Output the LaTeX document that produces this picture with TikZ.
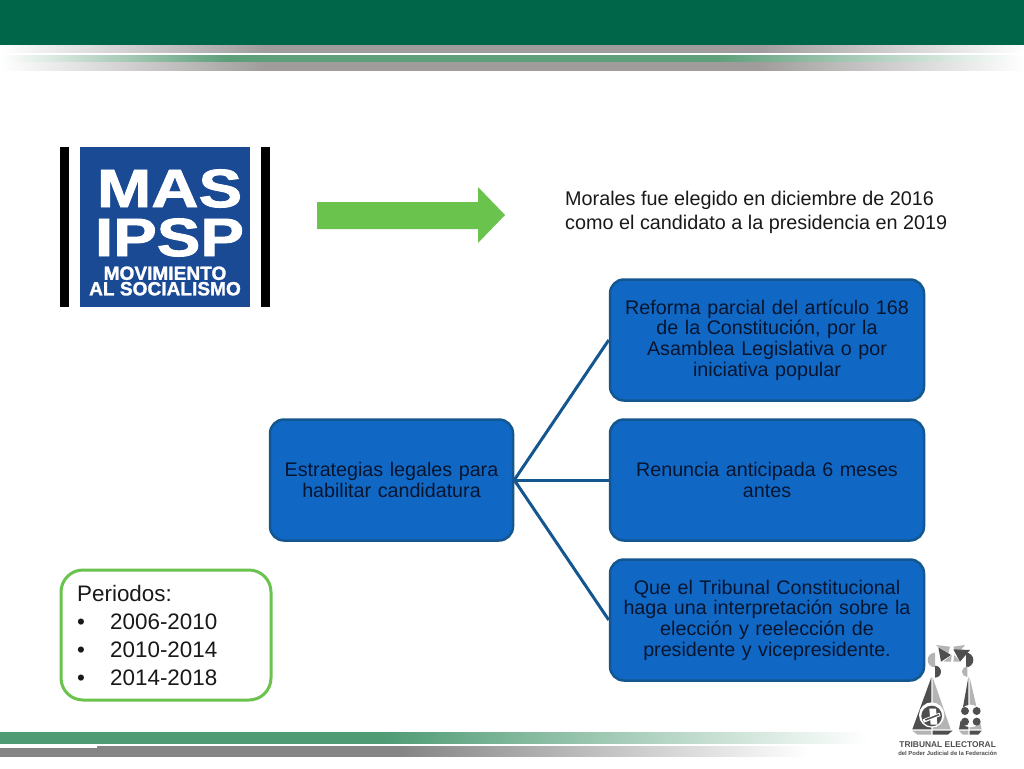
\documentclass[tikz,border=0pt]{standalone}
\usepackage{fontspec}
\setmainfont{Liberation Sans}
\newfontfamily\logofont[BoldFeatures={FakeBold=1.5}]{Liberation Sans}
\definecolor{topgreen}{HTML}{00664A}
\definecolor{boxblue}{HTML}{1068C4}
\definecolor{boxedge}{HTML}{14568F}
\definecolor{boxtext}{HTML}{07152F}
\definecolor{logoblue}{HTML}{1B4A94}
\definecolor{arrowgreen}{HTML}{69C34D}
\definecolor{bandgrey}{HTML}{A09C9C}
\definecolor{bandgreen}{HTML}{5E9F7B}
\definecolor{footgreen}{HTML}{4E9B74}
\definecolor{footgrey}{HTML}{858585}
\definecolor{sealdark}{HTML}{4F4F4F}
\definecolor{seallight}{HTML}{B4B4B4}
\pgfdeclarehorizontalshading{fadegrey}{100bp}{color(0bp)=(white); color(25bp)=(white); color(38bp)=(bandgrey); color(62bp)=(bandgrey); color(75bp)=(white); color(100bp)=(white)}
\pgfdeclarehorizontalshading{fadegreen}{100bp}{color(0bp)=(white); color(25bp)=(white); color(36bp)=(bandgreen); color(60bp)=(bandgreen); color(75bp)=(white); color(100bp)=(white)}
\pgfdeclarehorizontalshading{footfadegreen}{100bp}{color(0bp)=(footgreen); color(25bp)=(footgreen); color(47bp)=(footgreen); color(75bp)=(white); color(100bp)=(white)}
\pgfdeclarehorizontalshading{footfadegrey}{100bp}{color(0bp)=(footgrey); color(25bp)=(footgrey); color(49.7bp)=(footgrey); color(75bp)=(white); color(100bp)=(white)}
\tikzset{
	stepbox/.style={draw=boxedge, line width=2.5pt, fill=boxblue, rounded corners=14pt, text=boxtext, align=center, minimum height=121pt, font=\fontsize{19.7}{20.6}\selectfont},
	stepline/.style={draw=boxedge, line width=3pt},
	logotext/.style={text=white, align=center, inner sep=0pt},
	plaintext/.style={anchor=west, align=left, inner sep=0pt, text=black!90},
}
\begin{document}
\begin{tikzpicture}[x=1pt, y=-1pt]
	%%%%% HEADER %%%%%
	\useasboundingbox (0, 0) rectangle (1024, 768);
	\fill[white] (0, 0) rectangle (1024, 768);
	\fill[topgreen] (0, 0) rectangle (1024, 45);
	\shade[shading=fadegrey] (0, 46) rectangle (1024, 52.7);
	\shade[shading=fadegreen] (0, 55.3) rectangle (1024, 62.3);
	\shade[shading=fadegrey] (0, 62.7) rectangle (1024, 70);

	%%%%% LOGO %%%%%
	\fill[black] (60, 147) rectangle (69, 307);
	\fill[black] (261, 147) rectangle (270, 307);
	\fill[logoblue] (80, 147) rectangle (250, 307);
	\node[logotext, xscale=1.21, font=\logofont\bfseries\fontsize{54}{49}\selectfont] (masipsp) at (169.5, 213) {MAS\\IPSP};
	\node[logotext, font=\logofont\bfseries\fontsize{19.1}{15.5}\selectfont] (movimiento) at (165, 281) {MOVIMIENTO\\AL SOCIALISMO};

	%%%%% ARROW AND NOTE %%%%%
	\fill[arrowgreen] (317, 202) -- (478, 202) -- (478, 187) -- (505, 215) -- (478, 243) -- (478, 229) -- (317, 229) -- cycle;
	\node[plaintext, font=\fontsize{19.8}{24}\selectfont] (note) at (565, 212.5) {Morales fue elegido en diciembre de 2016\\como el candidato a la presidencia en 2019};

	%%%%% TREE %%%%%
	\node[stepbox, minimum width=243pt, text width=225pt] (estrategias) at (391.5, 480) {Estrategias legales para habilitar candidatura};
	\node[stepbox, minimum width=314pt, text width=295pt] (reforma) at (767, 340) {Reforma parcial del artículo 168\\de la Constitución, por la\\Asamblea Legislativa o por\\iniciativa popular};
	\node[stepbox, minimum width=314pt, text width=295pt] (renuncia) at (767, 480) {Renuncia anticipada 6 meses\\antes};
	\node[stepbox, minimum width=314pt, text width=295pt] (tribunal) at (767, 620) {Que el Tribunal Constitucional\\haga una interpretación sobre la\\elección y reelección de\\presidente y vicepresidente.};
	\draw[stepline] (estrategias.east) -- (reforma.west);
	\draw[stepline] (estrategias.east) -- (renuncia.west);
	\draw[stepline] (estrategias.east) -- (tribunal.west);

	%%%%% PERIODOS %%%%%
	\node[draw=arrowgreen, line width=3pt, rounded corners=22pt, minimum width=210pt, minimum height=130pt, inner sep=0pt] (caja) at (166, 635) {};
	\node[plaintext, font=\fontsize{22.4}{28}\selectfont] (periodos) at (77, 635) {Periodos:\\\makebox[33pt][l]{•}2006-2010\\\makebox[33pt][l]{•}2010-2014\\\makebox[33pt][l]{•}2014-2018};

	%%%%% SEAL %%%%%
	\begin{scope}[shift={(880, 630)}, x=0.3333pt, y=-0.3333pt]
		\fill[seallight] (165, 68) arc (270:90:22) -- cycle;
		\fill[sealdark] (165, 107) arc (270:450:18) -- cycle;
		\fill[sealdark] (258, 68) arc (270:450:22) -- cycle;
		\fill[seallight] (262, 109) arc (270:90:16) -- cycle;
		\fill[seallight] (167, 45) -- (210, 50) -- (205, 70) -- cycle;
		\fill[sealdark] (175, 52) -- (213, 75) -- (183, 95) -- cycle;
		\fill[seallight] (190, 95) -- (215, 75) -- (213, 95) -- cycle;
		\fill[seallight] (220, 50) -- (255, 45) -- (230, 75) -- cycle;
		\fill[sealdark] (220, 58) -- (270, 60) -- (240, 95) -- cycle;
		\fill[seallight] (223, 75) -- (240, 95) -- (220, 95) -- cycle;
		\fill[sealdark] (154, 142) -- (154, 298) -- (97, 298) -- cycle;
		\fill[seallight] (158, 142) -- (158, 298) -- (212, 298) -- cycle;
		\fill[sealdark] (265, 142) -- (265, 298) -- (237, 298) -- cycle;
		\fill[seallight] (269, 142) -- (269, 298) -- (305, 298) -- cycle;
		\fill[seallight] (97, 302) -- (154, 302) -- (154, 314) -- (112, 314) -- cycle;
		\fill[sealdark] (158, 302) -- (218, 302) -- (203, 314) -- (158, 314) -- cycle;
		\fill[seallight] (237, 302) -- (265, 302) -- (265, 314) -- (248, 314) -- cycle;
		\fill[sealdark] (269, 302) -- (305, 302) -- (295, 314) -- (269, 314) -- cycle;
		\fill[white] (155, 255) circle (38);
		\fill[sealdark] (155, 258) circle (31);
		\fill[white] (128, 268) -- (178, 248) -- (182, 258) -- (132, 278) -- cycle;
		\fill[white] (148, 236) -- (168, 236) -- (172, 284) -- (152, 284) -- cycle;
		\fill[sealdark] (135, 268) -- (176, 252) -- (178, 256) -- (137, 272) -- cycle;
		\fill[white] (272, 258) ellipse (34 and 34);
		\fill[sealdark] (255, 243) circle (12);
		\fill[sealdark] (255, 275) circle (12);
		\fill[sealdark] (290, 243) circle (12);
		\fill[sealdark] (290, 275) circle (12);
		\node[inner sep=0pt, text=sealdark, font=\bfseries\fontsize{8.4}{8.4}\selectfont] (electoral) at (203, 344) {TRIBUNAL ELECTORAL};
		\node[inner sep=0pt, text=sealdark, font=\bfseries\fontsize{5.9}{5.9}\selectfont] (poder) at (203, 369) {del Poder Judicial de la Federación};
	\end{scope}

	%%%%% FOOTER %%%%%
	\shade[shading=footfadegreen] (0, 732.7) rectangle (868, 743);
	\shade[shading=footfadegrey] (0, 746.7) rectangle (810, 756);
	\fill[white] (0, 746) rectangle (97, 748);
\end{tikzpicture}
\end{document}
